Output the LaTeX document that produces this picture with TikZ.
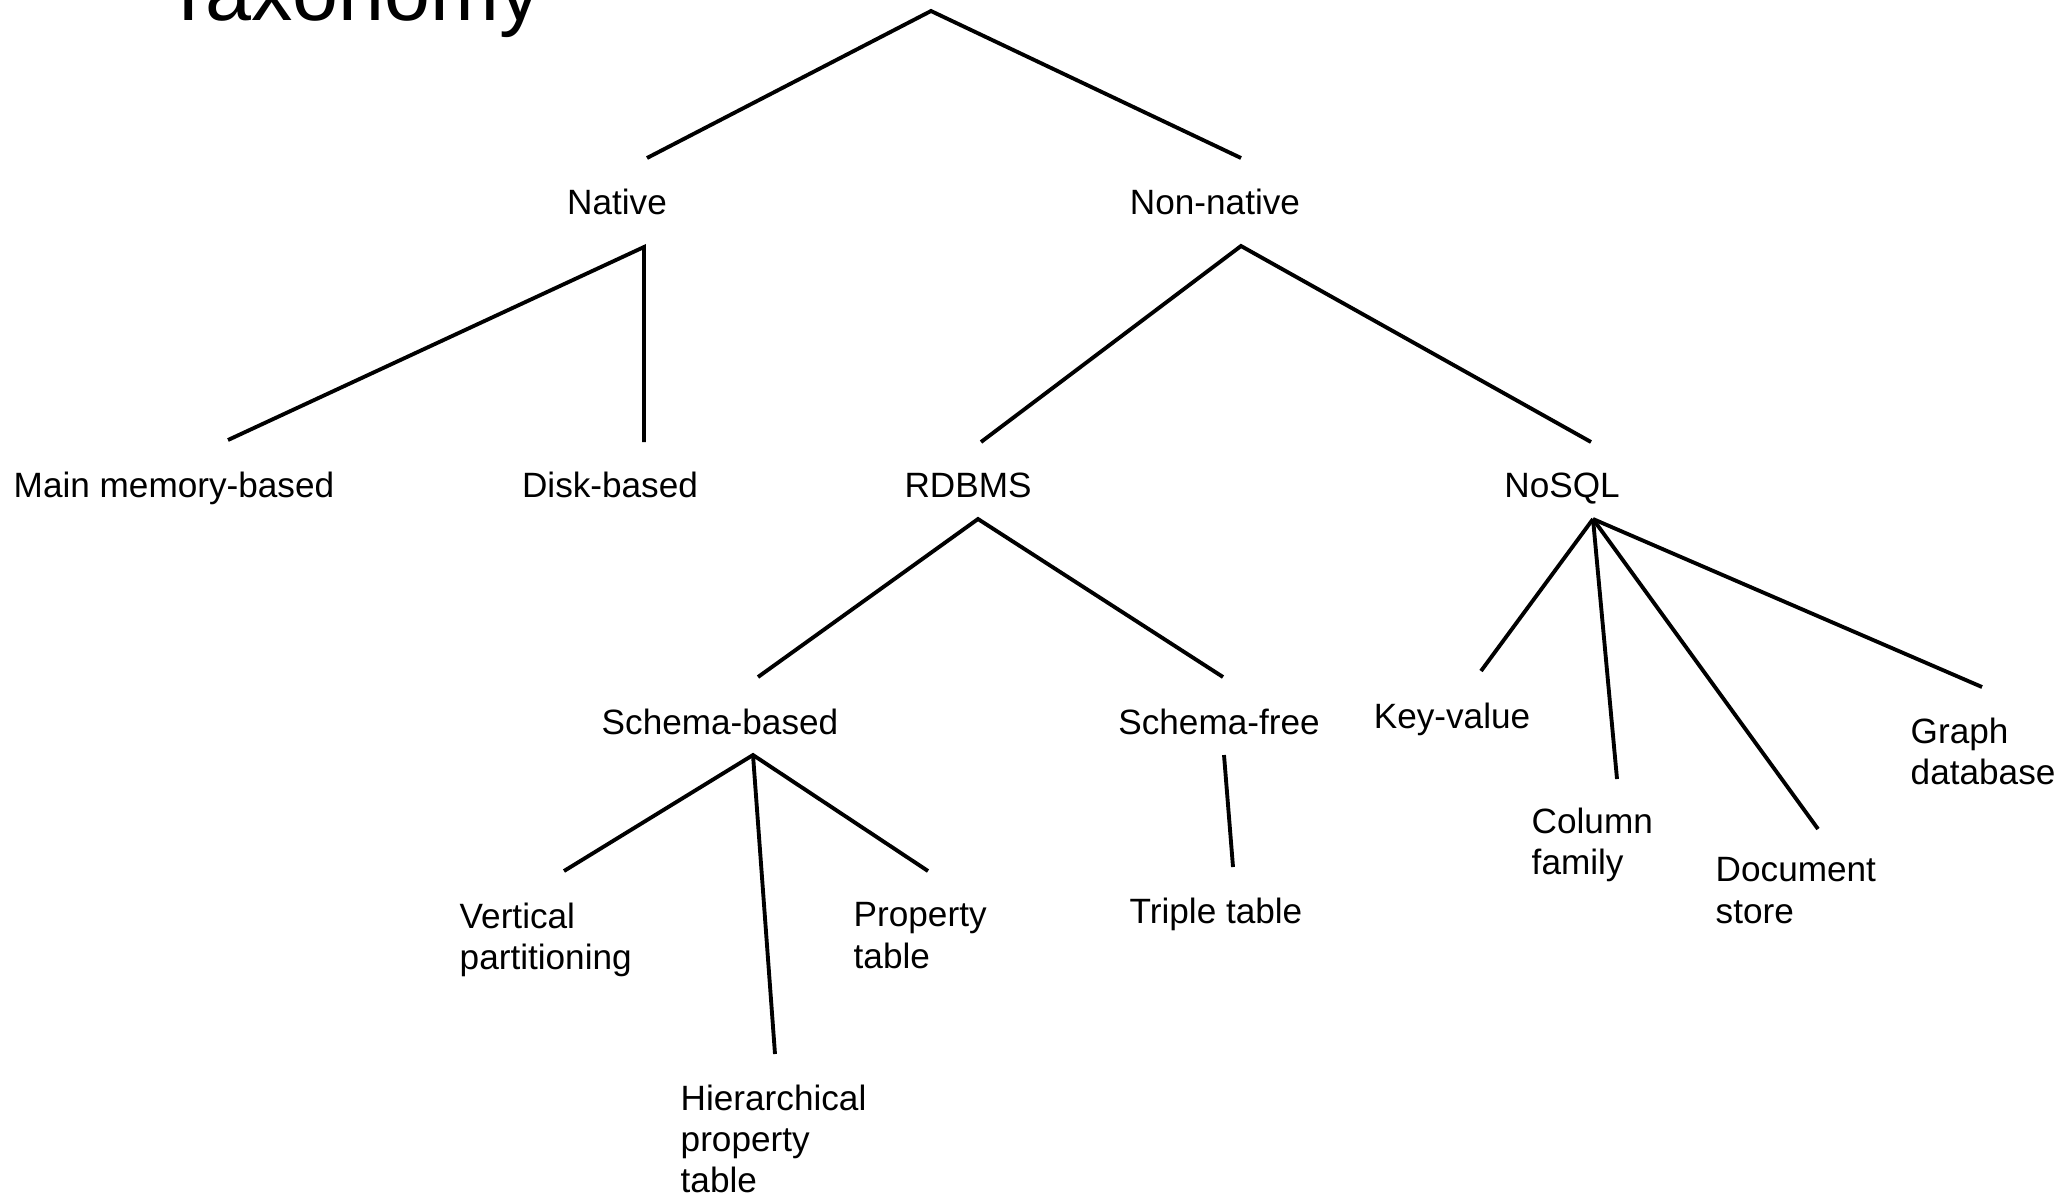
\documentclass[tikz,border=0pt]{standalone}
\usepackage{fontspec}
\setmainfont{Liberation Sans}
\tikzset{
  lbl/.style={inner sep=0pt, font=\fontsize{10}{11.7}\selectfont, anchor=base},
  lblml/.style={inner sep=0pt, font=\fontsize{10}{11.7}\selectfont, align=left, anchor=north west},
  branch/.style={line width=1.1pt}
}
\begin{document}
\begin{tikzpicture}[x=0.01cm, y=-0.01cm]
  \useasboundingbox (0,0) rectangle (2070,1199);
  \clip (0,0) rectangle (2070,1199);

  %TITLE
  \node[anchor=base west, inner sep=0pt, font=\fontsize{23.5}{28}\selectfont] (title) at (163,20) {Taxonomy};

  %ROOT
  \coordinate (root) at (931,11);

  %NATIVE / NON-NATIVE
  \coordinate (nat-in) at (647,158);
  \node[lbl] (native) at (617,214) {Native};
  \coordinate (nat-out) at (644,247);
  \coordinate (non-in) at (1241,158);
  \node[lbl] (nonnative) at (1215,214) {Non-native};
  \coordinate (non-out) at (1241,246);
  \draw[branch] (nat-in) -- (root) -- (non-in);

  %UNDER NATIVE
  \coordinate (mem-in) at (228,440);
  \node[lbl] (mem) at (174,497) {Main memory-based};
  \coordinate (disk-in) at (644,442);
  \node[lbl] (disk) at (610,497) {Disk-based};
  \draw[branch] (mem-in) -- (nat-out) -- (disk-in);

  %UNDER NON-NATIVE
  \coordinate (rdb-in) at (981,442);
  \node[lbl] (rdbms) at (968,497) {RDBMS};
  \coordinate (rdb-out) at (978,519);
  \coordinate (nosql-in) at (1591,442);
  \node[lbl] (nosql) at (1562,497) {NoSQL};
  \coordinate (nosql-out) at (1593,519);
  \draw[branch] (rdb-in) -- (non-out) -- (nosql-in);

  %RDBMS
  \coordinate (sb-in) at (758,677);
  \node[lbl] (sbased) at (720,734) {Schema-based};
  \coordinate (sb-out) at (753,755);
  \coordinate (sf-in) at (1223,677);
  \node[lbl] (sfree) at (1219,734) {Schema-free};
  \coordinate (sf-out) at (1224,755);
  \draw[branch] (sb-in) -- (rdb-out) -- (sf-in);

  %SCHEMA-BASED
  \coordinate (vp-in) at (564,871);
  \node[lblml] (vpart) at (459,902) {Vertical\\partitioning};
  \coordinate (hp-in) at (775,1054);
  \node[lblml] (hprop) at (680,1084) {Hierarchical\\property\\table};
  \coordinate (pt-in) at (928,871);
  \node[lblml] (ptable) at (853,902) {Property\\table};
  \draw[branch] (vp-in) -- (sb-out) -- (pt-in);
  \draw[branch] (sb-out) -- (hp-in);

  %SCHEMA-FREE
  \coordinate (tt-in) at (1233,867);
  \node[lbl] (triple) at (1216,923) {Triple table};
  \draw[branch] (sf-out) -- (tt-in);

  %NOSQL
  \coordinate (kv-in) at (1481,671);
  \node[lbl] (keyval) at (1452,728) {Key-value};
  \coordinate (cf-in) at (1617,779);
  \node[lblml] (colfam) at (1531,807) {Column\\family};
  \coordinate (ds-in) at (1818,829);
  \node[lblml] (docstore) at (1715,857) {Document\\store};
  \coordinate (gd-in) at (1982,687);
  \node[lblml] (graphdb) at (1910,717) {Graph\\database};
  \foreach \c in {kv-in,cf-in,ds-in,gd-in}
    \draw[branch] (nosql-out) -- (\c);

\end{tikzpicture}
\end{document}
